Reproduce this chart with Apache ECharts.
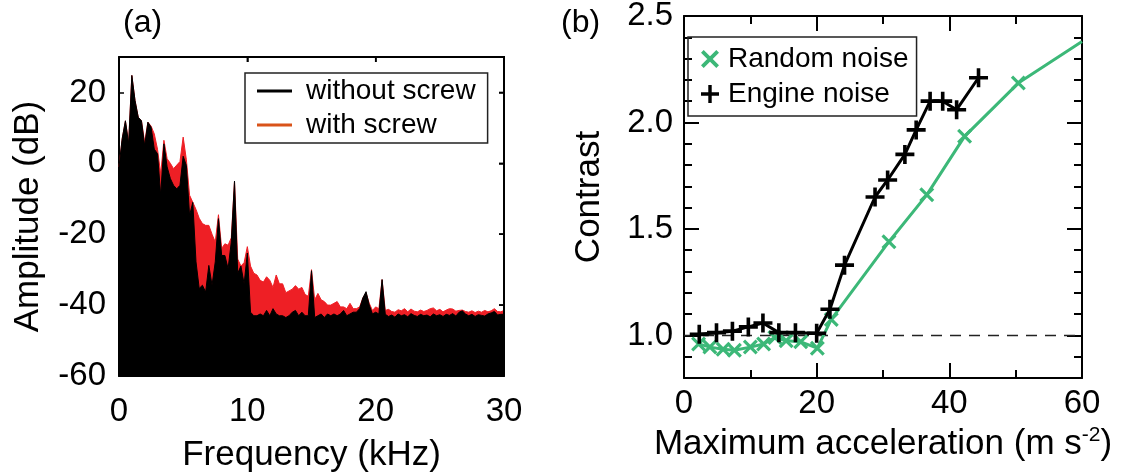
<!DOCTYPE html>
<html>
<head>
<meta charset="utf-8">
<script src="https://cdn.jsdelivr.net/npm/echarts@6/dist/echarts.min.js"></script>
<style>
html,body{margin:0;padding:0;background:#fff;}
#chart{width:1121px;height:472px;}
</style>
</head>
<body>
<div id="chart"></div>
<script>
// ---------- Panel (a): spectrum envelope (kHz, dB) ----------
const freqRange = [0, 30];
const ampRange = [-60, 30];
const freqTicks = [10, 20];
const freqKHz = [
 0,0.25,0.5,0.75,1,1.25,1.5,1.75,2,2.25,2.5,2.75,3,3.25,3.5,3.75,4,4.25,4.5,4.75,
 5,5.25,5.5,5.75,6,6.25,6.5,6.75,7,7.25,7.5,7.75,8,8.25,8.5,8.75,9,9.25,9.5,9.75,
 10,10.25,10.5,10.75,11,11.25,11.5,11.75,12,12.25,12.5,12.75,13,13.25,13.5,13.75,14,14.25,14.5,14.75,
 15,15.25,15.5,15.75,16,16.25,16.5,16.75,17,17.25,17.5,17.75,18,18.25,18.5,18.75,19,19.25,19.5,19.75,
 20,20.25,20.5,20.75,21,21.25,21.5,21.75,22,22.25,22.5,22.75,23,23.25,23.5,23.75,24,24.25,24.5,24.75,
 25,25.25,25.5,25.75,26,26.25,26.5,26.75,27,27.25,27.5,27.75,28,28.25,28.5,28.75,29,29.25,29.5,29.75,30
];
const withoutScrew = [
 -1,7,12,5.5,24.8,17.7,13,12,5,11.6,10.2,4,2.7,-9,5.5,-1,-4.3,-6.2,-7.2,-6.2,
 2,-0.6,-14.7,-11,-27.8,-35.3,-34.4,-36.3,-28.8,-34.4,-27.8,-15.6,-26,-26,-29.7,-22.2,-5,-31,-29,-34,
 -25.3,-42,-43,-43,-42.5,-43,-41.5,-43,-41,-42.5,-43,-43,-43.5,-43,-42,-41.5,-43,-42,-43,-43,
 -30.3,-43.5,-43,-42.5,-43.5,-42.5,-43,-42.5,-43,-42.5,-41.5,-43,-42.5,-42,-42,-41,-38,-36.2,-40,-42.5,
 -42,-42.5,-32.8,-42.6,-43.2,-42.8,-43.4,-42.5,-43,-42.7,-43.3,-42.4,-42.9,-43.2,-42.6,-43,-42.8,-43.3,-42.5,-43,
 -42.7,-43.2,-42.6,-42.9,-42.4,-43.1,-42,-41.6,-42.5,-43,-42.6,-43.2,-42.7,-42.9,-43.1,-42.5,-42.2,-41.8,-42.8,-42.6,-42.6
];
const withScrew = [
 -1,7,12,6,24.8,17.7,13,12,6,11.6,10.5,8.3,4,-3,6.5,1.3,0,-1.5,-0.5,0.5,
 7.4,1,-9,-11,-13,-15.5,-17,-17.5,-17.5,-20,-22.2,-14.5,-24,-22.7,-23.1,-21,-5,-27,-29,-28,
 -23.5,-29,-31,-31.5,-33,-33.5,-32,-33,-35,-31.5,-34,-34,-36.5,-36,-35.5,-34.5,-35.5,-35,-37,-37.5,
 -30,-38.5,-36.7,-38.5,-39,-40,-40,-39.5,-39,-40.5,-40.5,-41,-39.5,-41,-41,-40.5,-38,-36.5,-39.5,-41.5,
 -40.5,-41,-32.8,-41.5,-41.2,-41.8,-42,-41.3,-41.6,-41,-41.9,-41.1,-41.7,-41.9,-41.4,-41.8,-41.5,-41,-40.8,-41.6,
 -41.2,-41.9,-41.4,-41,-41.1,-41.7,-41.5,-41.4,-41.8,-42,-41.6,-42.1,-41.7,-42,-41.5,-41.9,-41.6,-41,-41.8,-41.9,-41.5
];
const ampTicks = [-60,-40,-20,0,20];

// ---------- Panel (b): contrast vs maximum acceleration ----------
const randomAccel    = [2.2,3.9,5.9,7.6,10.0,12.0,13.7,15.4,17.6,20.1,22.2,30.9,36.6,42.3,50.4,60];
const randomContrast = [0.96,0.945,0.935,0.93,0.945,0.96,0.99,0.975,0.97,0.94,1.075,1.44,1.66,1.935,2.185,2.38];
const engineAccel    = [2.3,4.9,7.3,9.7,11.9,14.3,16.8,20.0,22.0,24.2,28.8,30.7,33.3,35.0,37.1,39.0,41.1,44.4];
const engineContrast = [1.005,1.013,1.02,1.04,1.058,1.013,1.013,1.01,1.123,1.33,1.65,1.73,1.85,1.965,2.10,2.10,2.06,2.21];
const refLineX = [0,60];
const refLineY = [1,1];
const contrastMajorTicks = [1.0,1.5,2.0,2.5];
const contrastMinorTicks = [0.9,1.1,1.2,1.3,1.4,1.6,1.7,1.8,1.9,2.1,2.2,2.3,2.4];

const FONT = 'Liberation Sans, Arial, Helvetica, sans-serif';
const RED = '#ee1f25', BLACK = '#000000', GREEN = '#3cb878', LEG_RED = '#d95319';
const plusPath = 'path://M4.05,0H5.95V4.05H10V5.95H5.95V10H4.05V5.95H0V4.05H4.05Z';
const crossPath = 'path://M0,1.5L1.5,0L10,8.5L8.5,10Z M8.5,0L10,1.5L1.5,10L0,8.5Z';
const TICK_FS = 33, NAME_FS = 35, LEG_FS = 28;

const zip = (a, b) => a.map((v, i) => [v, b[i]]);
const mkLine = () => ({ show: true, onZero: false, lineStyle: { color: '#000', width: 2 } });
const noLine = () => ({ show: false, onZero: false });

const chart = echarts.init(document.getElementById('chart'), null, { renderer: 'canvas' });
chart.setOption({
  animation: false,
  textStyle: { fontFamily: FONT, color: '#000' },
  title: [
    { text: '(a)', left: 118, top: 2, textStyle: { fontFamily: FONT, fontSize: 32, fontWeight: 'normal', color: '#000' } },
    { text: '(b)', left: 556, top: 2, textStyle: { fontFamily: FONT, fontSize: 32, fontWeight: 'normal', color: '#000' } }
  ],
  grid: [
    { left: 119, top: 57, width: 385, height: 319, containLabel: false, outerBoundsMode: 'none' },
    { left: 684, top: 16, width: 398, height: 362, containLabel: false, outerBoundsMode: 'none' }
  ],
  legend: [
    {
      left: 245, top: 73, orient: 'vertical',
      itemWidth: 35, itemHeight: 3, itemGap: 6,
      padding: [4, 12, 4, 12],
      borderColor: '#222', borderWidth: 1.5,
      textStyle: { fontFamily: FONT, fontSize: LEG_FS, color: '#000', padding: [0, 0, 0, 9] },
      data: [
        { name: 'without screw', icon: 'rect', itemStyle: { color: BLACK } },
        { name: 'with screw', icon: 'rect', itemStyle: { color: LEG_RED } }
      ]
    },
    {
      left: 688, top: 37, orient: 'vertical',
      itemWidth: 18, itemHeight: 18, itemGap: 7,
      padding: [8, 8, 8, 13],
      borderColor: '#222', borderWidth: 1.5,
      textStyle: { fontFamily: FONT, fontSize: LEG_FS, color: '#000', padding: [0, 0, 0, 4] },
      data: [
        { name: 'Random noise', icon: crossPath },
        { name: 'Engine noise', icon: plusPath }
      ]
    }
  ],
  xAxis: [
    {
      gridIndex: 0, type: 'value', position: 'bottom', min: freqRange[0], max: freqRange[1], interval: 10,
      axisLine: mkLine(), splitLine: { show: false },
      axisTick: { inside: true, length: 5, lineStyle: { color: '#000', width: 1.5 } },
      axisLabel: { fontSize: TICK_FS, color: '#000', margin: 19, fontFamily: FONT },
      name: 'Frequency (kHz)', nameLocation: 'middle', nameGap: 62,
      nameTextStyle: { fontSize: NAME_FS, color: '#000', fontFamily: FONT }
    },
    {
      gridIndex: 0, type: 'value', position: 'top', min: freqRange[0], max: freqRange[1], interval: 10,
      axisLine: mkLine(), splitLine: { show: false },
      axisTick: { show: true, inside: true, length: 5, lineStyle: { color: '#000', width: 1.5 } },
      axisLabel: { show: false }
    },
    {
      gridIndex: 1, type: 'value', position: 'bottom', min: 0, max: 60, interval: 20,
      axisLine: mkLine(), splitLine: { show: false },
      axisTick: { inside: true, length: 15, lineStyle: { color: '#000', width: 2 } },
      minorTick: { show: true, splitNumber: 2, length: 8, lineStyle: { color: '#000', width: 2 } },
      minorSplitLine: { show: false },
      axisLabel: { fontSize: TICK_FS, color: '#000', margin: 9, fontFamily: FONT },
      name: 'Maximum acceleration (m s{sup|-2})', nameLocation: 'middle', nameGap: 41,
      nameTextStyle: {
        fontSize: NAME_FS, color: '#000', fontFamily: FONT,
        rich: { sup: { fontSize: 21, fontFamily: FONT, color: '#000', padding: [0, 0, 17, 0] } }
      }
    },
    {
      gridIndex: 1, type: 'value', position: 'top', min: 0, max: 60, interval: 20,
      axisLine: mkLine(), splitLine: { show: false },
      axisTick: { inside: true, length: 15, lineStyle: { color: '#000', width: 2 } },
      minorTick: { show: true, splitNumber: 2, length: 8, lineStyle: { color: '#000', width: 2 } },
      minorSplitLine: { show: false },
      axisLabel: { show: false }
    }
  ],
  yAxis: [
    {
      gridIndex: 0, type: 'value', position: 'left', min: ampRange[0], max: ampRange[1],
      axisLine: mkLine(), splitLine: { show: false },
      axisTick: { inside: true, length: 5, customValues: ampTicks, lineStyle: { color: '#000', width: 1.5 } },
      axisLabel: { fontSize: TICK_FS, color: '#000', margin: 13, customValues: ampTicks, fontFamily: FONT },
      name: 'Amplitude (dB)', nameLocation: 'middle', nameGap: 73, nameRotate: 90,
      nameTextStyle: { fontSize: NAME_FS, color: '#000', fontFamily: FONT }
    },
    {
      gridIndex: 0, type: 'value', position: 'right', min: ampRange[0], max: ampRange[1],
      axisLine: mkLine(), splitLine: { show: false },
      axisTick: { show: true, inside: true, length: 5, customValues: ampTicks, lineStyle: { color: '#000', width: 1.5 } },
      axisLabel: { show: false }
    },
    {
      gridIndex: 1, type: 'value', position: 'left', min: 0.8, max: 2.5,
      axisLine: mkLine(), splitLine: { show: false },
      axisTick: { inside: true, length: 15, customValues: contrastMajorTicks, lineStyle: { color: '#000', width: 2 } },
      axisLabel: { fontSize: TICK_FS, color: '#000', margin: 11, customValues: contrastMajorTicks,
                   formatter: v => Number(v).toFixed(1), fontFamily: FONT },
      name: 'Contrast', nameLocation: 'middle', nameGap: 77, nameRotate: 90,
      nameTextStyle: { fontSize: NAME_FS, color: '#000', fontFamily: FONT }
    },
    {
      gridIndex: 1, type: 'value', position: 'left', min: 0.8, max: 2.5,
      axisLine: noLine(), splitLine: { show: false },
      axisTick: { inside: true, length: 8, customValues: contrastMinorTicks, lineStyle: { color: '#000', width: 2 } },
      axisLabel: { show: false }
    },
    {
      gridIndex: 1, type: 'value', position: 'right', min: 0.8, max: 2.5,
      axisLine: mkLine(), splitLine: { show: false },
      axisTick: { inside: true, length: 15, customValues: contrastMajorTicks, lineStyle: { color: '#000', width: 2 } },
      axisLabel: { show: false }
    },
    {
      gridIndex: 1, type: 'value', position: 'right', min: 0.8, max: 2.5,
      axisLine: noLine(), splitLine: { show: false },
      axisTick: { inside: true, length: 8, customValues: contrastMinorTicks, lineStyle: { color: '#000', width: 2 } },
      axisLabel: { show: false }
    }
  ],
  series: [
    {
      name: 'with screw', type: 'line', xAxisIndex: 0, yAxisIndex: 0,
      data: zip(freqKHz, withScrew), symbol: 'none',
      itemStyle: { color: RED },
      lineStyle: { color: RED, width: 1 },
      areaStyle: { color: RED, opacity: 1, origin: 'start' },
      z: 2
    },
    {
      name: 'without screw', type: 'line', xAxisIndex: 0, yAxisIndex: 0,
      data: zip(freqKHz, withoutScrew), symbol: 'none',
      itemStyle: { color: BLACK },
      lineStyle: { color: BLACK, width: 1 },
      areaStyle: { color: BLACK, opacity: 1, origin: 'start' },
      z: 3
    },
    {
      name: 'ref', type: 'line', xAxisIndex: 2, yAxisIndex: 2,
      data: zip(refLineX, refLineY), symbol: 'none', silent: true,
      lineStyle: { color: '#222', width: 1.5, type: [11, 8] },
      z: 1
    },
    {
      name: 'Random noise', type: 'line', xAxisIndex: 2, yAxisIndex: 2,
      data: zip(randomAccel, randomContrast).map((p, i, arr) =>
        i === arr.length - 1 ? { value: p, symbol: 'none' } : p),
      symbol: crossPath, symbolSize: 15,
      itemStyle: { color: GREEN, borderWidth: 0 },
      lineStyle: { color: GREEN, width: 3 },
      z: 4
    },
    {
      name: 'Engine noise', type: 'line', xAxisIndex: 2, yAxisIndex: 2,
      data: zip(engineAccel, engineContrast),
      symbol: plusPath, symbolSize: 19,
      itemStyle: { color: BLACK, borderWidth: 0 },
      lineStyle: { color: BLACK, width: 3 },
      z: 5
    }
  ]
});

// Frame (top and right edges) and inward ticks of panel (a), placed through the library's scales
const toPx = (v) => chart.convertToPixel({ xAxisIndex: 0, yAxisIndex: 0 }, v);
const tl = toPx([freqRange[0], ampRange[1]]);
const br = toPx([freqRange[1], ampRange[0]]);
const frameEls = [{
  type: 'polyline', z: 100, silent: true,
  shape: { points: [[tl[0], tl[1]], [br[0], tl[1]], [br[0], br[1]]] },
  style: { stroke: '#000', lineWidth: 2, fill: null }
}];
freqTicks.forEach(f => {
  const p = toPx([f, ampRange[1]]);
  frameEls.push({ type: 'line', z: 100, silent: true,
    shape: { x1: p[0], y1: tl[1], x2: p[0], y2: tl[1] + 5 }, style: { stroke: '#000', lineWidth: 1.5 } });
});
ampTicks.forEach(a => {
  const p = toPx([freqRange[1], a]);
  frameEls.push({ type: 'line', z: 100, silent: true,
    shape: { x1: br[0], y1: p[1], x2: br[0] - 5, y2: p[1] }, style: { stroke: '#000', lineWidth: 1.5 } });
});
chart.setOption({ graphic: frameEls });
</script>
</body>
</html>
